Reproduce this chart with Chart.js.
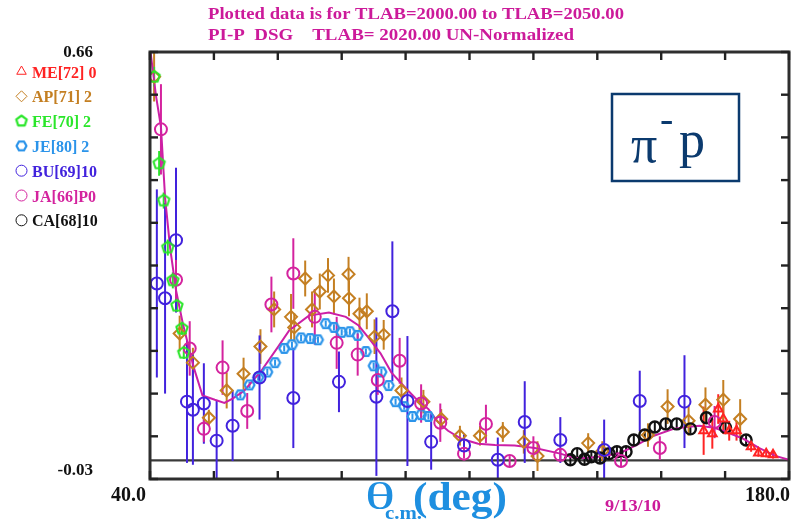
<!DOCTYPE html>
<html>
<head>
<meta charset="utf-8">
<script src="https://cdn.jsdelivr.net/npm/chart.js@4.4.1/dist/chart.umd.min.js"></script>
<style>
  html, body { margin: 0; padding: 0; background: #ffffff; }
  canvas { display: block; }
</style>
</head>
<body>
<canvas id="dsg" width="797" height="525"></canvas>
<script>
// ---- header / annotation text ----
const titleLines = [
  'Plotted data is for TLAB=2000.00 to TLAB=2050.00',
  'PI-P  DSG    TLAB= 2020.00 UN-Normalized'
];
const dateStamp = '9/13/10';
const reactionParts = ['\u03C0', '-', 'p'];
const axisTitleParts = ['\u03B8', 'c.m.', '(deg)'];

// ---- axes ----
const xMin = 40, xMax = 180;
const yMin = -0.03, yMax = 0.66;
const xTickValues = [40, 54, 68, 82, 96, 110, 124, 138, 152, 166, 180];
const yTickValues = [-0.03, 0.039, 0.108, 0.177, 0.246, 0.315, 0.384, 0.453, 0.522, 0.591, 0.66];
const xTickLabels = ['40.0', '180.0'];
const yTickLabels = ['-0.03', '0.66'];

// ---- legend ----
const legendLabels = ['ME[72] 0', 'AP[71] 2', 'FE[70] 2', 'JE[80] 2', 'BU[69]10', 'JA[66]P0', 'CA[68]10'];

// ---- measurements: angle (deg), dsig/dOmega, error ----
const meTheta = [161.3, 163.2, 164.5, 165.6, 166.9, 168.5, 171.7, 173.3, 175.0, 176.5];
const meDsg   = [0.048, 0.043, 0.083, 0.067, 0.048, 0.048, 0.022, 0.012, 0.011, 0.009];
const meErr   = [0.039, 0.024, 0.024, 0.024, 0.016, 0.016, 0.008, 0.006, 0.006, 0.006];

const apTheta = [40.9, 46.5, 49.4, 52.9, 56.8, 60.5, 64.2, 67.2, 70.9, 71.6, 74.0, 75.5, 77.2, 79.0, 80.3,
                 83.5, 83.6, 85.9, 87.5, 89.2, 91.2, 95.1, 99.9, 103.8, 107.9, 112.3, 117.3, 121.9, 124.9,
                 136.0, 139.1, 149.1, 153.4, 158.0, 161.7, 165.6, 169.3];
const apDsg   = [0.620, 0.205, 0.158, 0.069, 0.113, 0.140, 0.184, 0.244, 0.232, 0.215, 0.294, 0.244, 0.273, 0.299, 0.265,
                 0.301, 0.262, 0.237, 0.241, 0.200, 0.203, 0.113, 0.095, 0.067, 0.040, 0.040, 0.046, 0.030, 0.007,
                 0.028, 0.015, 0.041, 0.087, 0.064, 0.090, 0.098, 0.067];
const apErr   = [0.040, 0.029, 0.024, 0.013, 0.029, 0.026, 0.028, 0.029, 0.037, 0.023, 0.029, 0.029, 0.029, 0.028, 0.029,
                 0.028, 0.029, 0.026, 0.029, 0.028, 0.024, 0.021, 0.019, 0.016, 0.016, 0.016, 0.016, 0.019, 0.024,
                 0.016, 0.016, 0.019, 0.028, 0.024, 0.028, 0.032, 0.032];

const feTheta = [40.9, 42.0, 43.0, 43.9, 45.0, 45.9, 47.0, 47.4];
const feDsg   = [0.620, 0.480, 0.420, 0.344, 0.291, 0.250, 0.213, 0.174];
const feErr   = [0.016, 0.020, 0.013, 0.013, 0.013, 0.010, 0.010, 0.010];

const jeTheta = [59.8, 61.8, 63.7, 65.7, 67.4, 69.4, 71.1, 73.1, 75.1, 76.8, 78.5, 80.3,
                 82.0, 83.8, 85.5, 87.3, 89.0, 90.7, 92.3, 93.8, 95.7, 97.5, 99.4, 101.0];
const jeDsg   = [0.106, 0.122, 0.134, 0.143, 0.158, 0.181, 0.187, 0.198, 0.197, 0.195, 0.221, 0.215,
                 0.207, 0.208, 0.202, 0.176, 0.153, 0.143, 0.121, 0.095, 0.087, 0.071, 0.074, 0.071];
const jeErr   = [0.005, 0.005, 0.005, 0.005, 0.005, 0.005, 0.005, 0.005, 0.005, 0.005, 0.005, 0.005,
                 0.005, 0.005, 0.005, 0.005, 0.005, 0.005, 0.005, 0.005, 0.005, 0.005, 0.005, 0.005];

const buTheta = [41.5, 43.3, 45.7, 48.1, 49.4, 51.8, 54.6, 58.1, 64.0, 71.4, 81.4, 89.6, 93.1, 96.4,
                 101.6, 108.8, 116.2, 122.1, 129.9, 139.5, 147.3, 157.1];
const buDsg   = [0.286, 0.262, 0.356, 0.095, 0.082, 0.092, 0.032, 0.056, 0.134, 0.101, 0.127, 0.103, 0.241, 0.096,
                 0.030, 0.024, 0.001, 0.062, 0.033, 0.017, 0.096, 0.095];
const buErr   = [0.152, 0.154, 0.117, 0.099, 0.089, 0.065, 0.065, 0.057, 0.068, 0.081, 0.049, 0.128, 0.113, 0.105,
                 0.045, 0.018, 0.036, 0.066, 0.037, 0.049, 0.049, 0.075];

const jaTheta = [42.4, 45.7, 48.7, 51.8, 55.9, 61.3, 66.6, 71.4, 76.1, 80.9, 85.5, 89.9, 94.7, 99.4,
                 103.6, 108.8, 113.6, 118.8, 124.0, 129.9, 143.2, 151.7, 163.7];
const jaDsg   = [0.535, 0.292, 0.181, 0.051, 0.150, 0.080, 0.252, 0.302, 0.232, 0.190, 0.171, 0.130, 0.161, 0.092,
                 0.061, 0.011, 0.059, -0.001, 0.020, 0.009, -0.001, 0.020, 0.062];
const jaErr   = [0.073, 0.032, 0.044, 0.021, 0.044, 0.029, 0.045, 0.057, 0.045, 0.042, 0.034, 0.024, 0.037, 0.031,
                 0.031, 0.008, 0.031, 0.008, 0.019, 0.010, 0.010, 0.019, 0.026];

const caTheta = [132.1, 133.6, 135.2, 136.7, 138.6, 140.6, 142.3, 144.3, 146.0, 148.4, 150.6, 153.0, 155.4,
                 158.4, 161.9, 166.1, 170.6];
const caDsg   = [0.001, 0.011, 0.002, 0.006, 0.004, 0.011, 0.014, 0.014, 0.033, 0.041, 0.054, 0.059, 0.059,
                 0.051, 0.069, 0.053, 0.033];
const caErr   = [0.008, 0.008, 0.008, 0.008, 0.008, 0.008, 0.008, 0.008, 0.008, 0.008, 0.008, 0.008, 0.008,
                 0.008, 0.008, 0.008, 0.008];

// ---- fit curve ----
const fitTheta = [40.0, 41.3, 42.4, 43.3, 44.4, 45.7, 47.2, 48.7, 49.6, 51.5, 54.2, 56.3, 58.1, 60.7, 64.4,
                  67.9, 70.5, 74.8, 79.2, 82.9, 85.7, 87.9, 90.5, 92.9, 96.0, 98.1, 101.0, 103.1, 105.3,
                  108.2, 111.9, 115.6, 119.9, 124.3, 129.9, 133.0, 135.8, 139.5, 143.0, 146.7, 150.4,
                  154.7, 157.6, 160.4, 163.5, 166.3, 170.0, 173.5, 177.2, 180.0];
const fitDsg   = [0.667, 0.590, 0.539, 0.425, 0.344, 0.275, 0.221, 0.177, 0.150, 0.105, 0.098, 0.093, 0.100, 0.113, 0.145,
                  0.182, 0.210, 0.234, 0.239, 0.232, 0.218, 0.198, 0.173, 0.142, 0.117, 0.101, 0.083, 0.062, 0.048,
                  0.035, 0.027, 0.025, 0.024, 0.020, 0.011, 0.004, 0.004, 0.007, 0.012, 0.025, 0.040,
                  0.051, 0.054, 0.056, 0.053, 0.046, 0.035, 0.020, 0.007, 0.001];

// ---- colours ----
const colME = '#ff2424', colAP = '#c47f22', colFE = '#2ae62a', colJE = '#2b94ea',
      colBU = '#4122dd', colJA = '#d4239e', colCA = '#111111', colFit = '#cc1fa6',
      colTitle = '#cc1a9a', colAxisTitle = '#1e8fe0', colBox = '#0b3a6e';

// hollow polygon marker drawn into a small canvas, used as a point style
function polyMarker(sides, r, color, lw, rot) {
  const s = Math.ceil(2 * r + lw + 2);
  const c = document.createElement('canvas');
  c.width = s; c.height = s;
  const g = c.getContext('2d');
  g.strokeStyle = color; g.lineWidth = lw; g.lineJoin = 'round';
  g.beginPath();
  for (let i = 0; i < sides; i++) {
    const a = rot + i * 2 * Math.PI / sides;
    const px = s / 2 + r * Math.cos(a), py = s / 2 + r * Math.sin(a);
    if (i) g.lineTo(px, py); else g.moveTo(px, py);
  }
  g.closePath(); g.stroke();
  return c;
}
const pentagon = polyMarker(5, 6, colFE, 2, -Math.PI / 2);
const hexagon = polyMarker(6, 5, colJE, 2.2, 0);
const pentagonSmall = polyMarker(5, 5.5, colFE, 2.2, -Math.PI / 2);
const hexagonSmall = polyMarker(6, 5, colJE, 2.2, 0);

function pts(xs, ys) { return xs.map((x, i) => ({ x: x, y: ys[i] })); }

function seriesSet(label, xs, ys, errs, color, style, radius, bw, order, legendStyle) {
  return {
    label: label, data: pts(xs, ys), errors: errs, legendStyle: legendStyle || style,
    showLine: false, borderColor: color, backgroundColor: 'rgba(0,0,0,0)',
    pointStyle: style, pointRadius: radius, pointBorderWidth: bw, pointHoverRadius: radius,
    order: order
  };
}

const datasets = [
  {
    label: 'fit', data: pts(fitTheta, fitDsg), showLine: true, borderColor: colFit, borderWidth: 2,
    pointRadius: 0, tension: 0, fill: false, order: 10
  },
  seriesSet(legendLabels[0], meTheta, meDsg, meErr, colME, 'triangle', 5, 2, 1),
  seriesSet(legendLabels[1], apTheta, apDsg, apErr, colAP, 'rectRot', 6, 2, 3),
  seriesSet(legendLabels[2], feTheta, feDsg, feErr, colFE, pentagon, 6, 2, 0, pentagonSmall),
  seriesSet(legendLabels[3], jeTheta, jeDsg, jeErr, colJE, hexagon, 5, 2, 2, hexagonSmall),
  seriesSet(legendLabels[4], buTheta, buDsg, buErr, colBU, 'circle', 6, 2, 1),
  seriesSet(legendLabels[5], jaTheta, jaDsg, jaErr, colJA, 'circle', 6, 2, 1),
  seriesSet(legendLabels[6], caTheta, caDsg, caErr, colCA, 'circle', 5.5, 2.4, 1)
];

// text helper: draws text, optionally squeezed/stretched horizontally to a width
function putText(ctx, text, x, y, font, color, align, width) {
  ctx.save();
  ctx.font = font; ctx.fillStyle = color; ctx.textBaseline = 'middle'; ctx.textAlign = 'left';
  const w = ctx.measureText(text).width;
  const s = width ? width / w : 1;
  const tw = w * s;
  const left = align === 'right' ? x - tw : align === 'center' ? x - tw / 2 : x;
  ctx.translate(left, y); ctx.scale(s, 1);
  ctx.fillText(text, 0, 0);
  ctx.restore();
}

const decorPlugin = {
  id: 'decor',
  beforeDatasetsDraw(chart) {
    const { ctx, chartArea: a, scales: { x, y } } = chart;
    // zero line
    ctx.save();
    ctx.strokeStyle = '#3a3a3a'; ctx.lineWidth = 2.2;
    const y0 = y.getPixelForValue(0);
    ctx.beginPath(); ctx.moveTo(a.left, y0); ctx.lineTo(a.right, y0); ctx.stroke();
    // error bars
    ctx.beginPath(); ctx.rect(a.left, a.top, a.right - a.left, a.bottom - a.top); ctx.clip();
    chart.data.datasets.forEach((ds) => {
      if (!ds.errors) return;
      ctx.strokeStyle = ds.borderColor; ctx.lineWidth = 2;
      ds.data.forEach((p, i) => {
        const e = ds.errors[i];
        const px = x.getPixelForValue(p.x);
        ctx.beginPath();
        ctx.moveTo(px, y.getPixelForValue(p.y - e));
        ctx.lineTo(px, y.getPixelForValue(p.y + e));
        ctx.stroke();
      });
    });
    ctx.restore();
  },
  afterDraw(chart) {
    const { ctx, chartArea: a, scales: { x, y } } = chart;
    ctx.save();
    // frame
    ctx.strokeStyle = '#2e2e2e'; ctx.lineWidth = 3;
    ctx.strokeRect(a.left, a.top, a.right - a.left, a.bottom - a.top);
    // inward ticks on all four sides
    ctx.lineWidth = 2.4; ctx.strokeStyle = '#222';
    const tl = 8;
    xTickValues.forEach(v => {
      const px = x.getPixelForValue(v);
      ctx.beginPath(); ctx.moveTo(px, a.bottom); ctx.lineTo(px, a.bottom - tl); ctx.stroke();
      ctx.beginPath(); ctx.moveTo(px, a.top); ctx.lineTo(px, a.top + tl); ctx.stroke();
    });
    yTickValues.forEach(v => {
      const py = y.getPixelForValue(v);
      ctx.beginPath(); ctx.moveTo(a.left, py); ctx.lineTo(a.left + tl, py); ctx.stroke();
      ctx.beginPath(); ctx.moveTo(a.right, py); ctx.lineTo(a.right - tl, py); ctx.stroke();
    });
    ctx.restore();

    const serif = '"Liberation Serif", "DejaVu Serif", serif';
    // end tick labels
    putText(ctx, yTickLabels[1], 93, y.getPixelForValue(yMax) + 1, 'bold 17px ' + serif, '#111', 'right');
    putText(ctx, yTickLabels[0], 93, y.getPixelForValue(yMin) - 8, 'bold 17px ' + serif, '#111', 'right');
    putText(ctx, xTickLabels[0], x.getPixelForValue(xMin) - 4, 496, 'bold 20px ' + serif, '#111', 'right');
    putText(ctx, xTickLabels[1], x.getPixelForValue(xMax) + 1, 496, 'bold 20px ' + serif, '#111', 'right');

    // header
    putText(ctx, titleLines[0], 208, 15, 'bold 17px ' + serif, colTitle, 'left', 416);
    putText(ctx, titleLines[1], 208, 36, 'bold 17px ' + serif, colTitle, 'left', 366);

    // axis title
    putText(ctx, axisTitleParts[0], 365, 499, '38px ' + serif, colAxisTitle, 'left', 30);
    putText(ctx, axisTitleParts[1], 385, 514, 'bold 19px ' + serif, colAxisTitle, 'left', 37);
    putText(ctx, axisTitleParts[2], 413, 500, 'bold 40px ' + serif, colAxisTitle, 'left', 94);
    putText(ctx, dateStamp, 605, 507, 'bold 16px ' + serif, colTitle, 'left', 56);

    // legend
    const lx = 21.5, ly0 = 73.5, step = 24.8;
    chart.data.datasets.forEach((ds, di) => {
      if (!ds.errors) return;
      const k = di - 1;
      const ry = ly0 + k * step;
      ctx.save();
      ctx.strokeStyle = ds.borderColor; ctx.fillStyle = 'rgba(0,0,0,0)';
      Chart.helpers.drawPoint(ctx, { pointStyle: ds.legendStyle, rotation: 0, radius: 5.5, borderWidth: 2.2 }, lx, ry - 2);
      ctx.restore();
      putText(ctx, ds.label, 32, ry, 'bold 16px ' + serif, ds.borderColor, 'left');
    });

    // reaction label box
    ctx.save();
    ctx.strokeStyle = colBox; ctx.lineWidth = 2.5;
    ctx.strokeRect(612, 94, 127, 87);
    ctx.restore();
    ctx.save();
    ctx.fillStyle = colBox; ctx.textBaseline = 'alphabetic'; ctx.textAlign = 'left';
    ctx.font = '52px ' + serif;
    ctx.fillText(reactionParts[0], 631, 162);
    ctx.font = '40px ' + serif;
    ctx.fillText(reactionParts[1], 660, 132);
    ctx.font = '52px ' + serif;
    ctx.fillText(reactionParts[2], 679, 157);
    ctx.restore();
  }
};

new Chart(document.getElementById('dsg'), {
  type: 'scatter',
  data: { datasets: datasets },
  options: {
    responsive: false,
    animation: false,
    events: [],
    layout: { padding: { left: 150, right: 4, top: 52, bottom: 46 } },
    plugins: { legend: { display: false }, title: { display: false }, tooltip: { enabled: false } },
    scales: {
      x: { type: 'linear', min: xMin, max: xMax, display: false },
      y: { type: 'linear', min: yMin, max: yMax, display: false }
    }
  },
  plugins: [decorPlugin]
});
</script>
</body>
</html>
